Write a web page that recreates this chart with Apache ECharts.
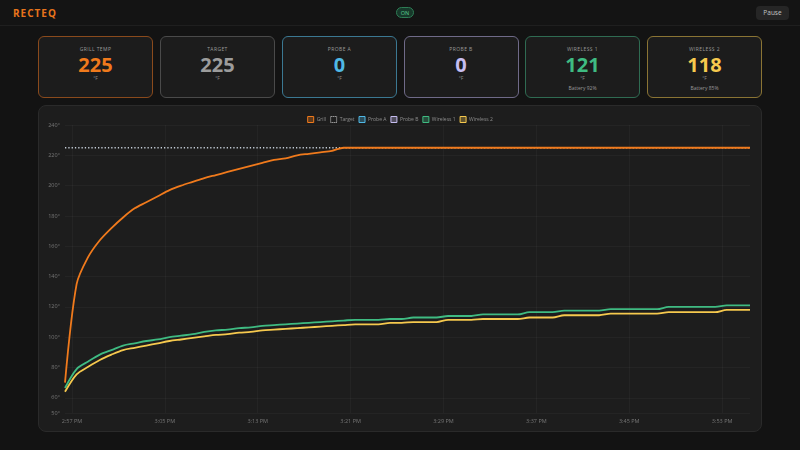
<!DOCTYPE html>
<html><head><meta charset="utf-8">
<script src="https://cdn.jsdelivr.net/npm/echarts@6/dist/echarts.min.js"></script>
<style>
html,body{margin:0;padding:0;background:#131313;width:800px;height:450px;overflow:hidden;font-family:'Open Sans','Noto Sans',sans-serif;}
.header{position:absolute;left:0;top:0;width:800px;height:25px;border-bottom:1px solid #1f1f1f;background:#141414}
.brand{position:absolute;left:13px;top:6px;font-size:10px;font-weight:700;color:#e8741c;letter-spacing:1px;line-height:14px}
.pill{position:absolute;left:396px;top:7px;width:18px;height:11px;border:1px solid #2e7d55;background:#17382a;border-radius:6px;color:#5ccf92;font-size:5.5px;line-height:11px;text-align:center;box-sizing:border-box}
.pause{position:absolute;left:756px;top:6px;width:33px;height:14px;background:#262626;border-radius:4px;color:#c4c4c4;font-size:6.5px;line-height:14px;text-align:center}
.card{position:absolute;top:36px;width:115px;height:62px;border:1px solid;border-radius:6px;background:#1c1c1c;box-sizing:border-box;text-align:center}
.card .t{position:absolute;left:0;right:0;top:9px;font-size:5px;line-height:6px;color:#9a9a9a;letter-spacing:0.4px}
.card .v{position:absolute;left:0;right:0;top:17px;font-size:20px;font-weight:700;line-height:22px}
.card .u{position:absolute;left:0;right:0;top:38px;font-size:5px;line-height:6px;color:#8a8a8a}
.card .b{position:absolute;left:0;right:0;top:48px;font-size:5px;line-height:6px;color:#9a9a9a}
#wrap{position:absolute;left:38px;top:105px;width:724px;height:327px;background:#1d1d1d;border:1px solid #2a2a2a;border-radius:8px;box-sizing:border-box;overflow:hidden}
#chart{position:absolute;left:0;top:0;width:722px;height:325px}
</style>
</head>
<body>
<div class="header">
  <div class="brand">RECTEQ</div>
  <div class="pill">ON</div>
  <div class="pause">Pause</div>
</div>
<div id="cards"></div>
<div id="wrap"><div id="chart"></div></div>
<script>
// ---- card readings ----
const cardTitles = ['GRILL TEMP', 'TARGET', 'PROBE A', 'PROBE B', 'WIRELESS 1', 'WIRELESS 2'];
const cardValues = [225, 225, 0, 0, 121, 118];
const cardUnits = ['°F', '°F', '°F', '°F', '°F', '°F'];
const cardBattery = ['', '', '', '', 'Battery 92%', 'Battery 85%'];

// ---- series names / colours ----
const seriesNames = ['Grill', 'Target', 'Probe A', 'Probe B', 'Wireless 1', 'Wireless 2'];
const seriesColors = ['#f07a1c', '#c3ccd6', '#4fb8e6', '#c6bdf0', '#3fbb82', '#f6c94e'];
const cardValueColors = ['#f07a1c', '#9c9c9c', '#4fb8e6', '#c6bdf0', '#3fbb82', '#f6c94e'];
const cardBorderColors = ['#8a4a1c', '#4a4a4a', '#3b7892', '#6f6a88', '#2f6b52', '#8a7434'];

// ---- sample times (one reading per minute) ----
const sampleTimes = [
 '14:56:24','14:57:24','14:58:24','14:59:24','15:00:24','15:01:24','15:02:24','15:03:24','15:04:24','15:05:24',
 '15:06:24','15:07:24','15:08:24','15:09:24','15:10:24','15:11:24','15:12:24','15:13:24','15:14:24','15:15:24',
 '15:16:24','15:17:24','15:18:24','15:19:24','15:20:24','15:21:24','15:22:24','15:23:24','15:24:24','15:25:24',
 '15:26:24','15:27:24','15:28:24','15:29:24','15:30:24','15:31:24','15:32:24','15:33:24','15:34:24','15:35:24',
 '15:36:24','15:37:24','15:38:24','15:39:24','15:40:24','15:41:24','15:42:24','15:43:24','15:44:24','15:45:24',
 '15:46:24','15:47:24','15:48:24','15:49:24','15:50:24','15:51:24','15:52:24','15:53:24','15:54:24','15:55:24'
];

// ---- series values (°F) ----
const grill = [
 70,135,153,164,172,179,185,189,193,197,
 200,202.5,205,207,209,211,213,215,217,218,
 220,221,222,223,225,225,225,225,225,225,
 225,225,225,225,225,225,225,225,225,225,
 225,225,225,225,225,225,225,225,225,225,
 225,225,225,225,225,225,225,225,225,225
];
const target = [
 225,225,225,225,225,225,225,225,225,225,
 225,225,225,225,225,225,225,225,225,225,
 225,225,225,225,225,225,225,225,225,225,
 225,225,225,225,225,225,225,225,225,225,
 225,225,225,225,225,225,225,225,225,225,
 225,225,225,225,225,225,225,225,225,225
];
const probeA = [];
const probeB = [];
const wireless1 = [
 66.5,79,84,88.5,91.5,94.5,96,97.5,98.5,100,
 101,102,103.5,104.5,105,106,106.5,107.5,108,108.5,
 109,109.5,110,110.5,111,111.5,111.5,111.5,112,112,
 113,113,113,114,114,114,115,115,115,115,
 116.5,116.5,116.5,117.5,117.5,117.5,117.5,118.5,118.5,118.5,
 118.5,118.5,120,120,120,120,120,121,121,121
];
const wireless2 = [
 64,75.5,80.5,85,88.5,91.5,93,94.5,96,97.5,
 98.5,99.5,100.5,101.5,102,103,103.5,104.5,105,105.5,
 106,106.5,107,107.5,108,108.5,108.5,108.5,109.5,109.5,
 110,110,110,111.5,111.5,111.5,112,112,112,112,
 113,113,113,114.5,114.5,114.5,114.5,115.5,115.5,115.5,
 115.5,115.5,116.5,116.5,116.5,116.5,116.5,118,118,118
];

// ---- tick labels ----
const xTickTimes = ['14:57','15:05','15:13','15:21','15:29','15:37','15:45','15:53'];
const xTickLabels = ['2:57 PM','3:05 PM','3:13 PM','3:21 PM','3:29 PM','3:37 PM','3:45 PM','3:53 PM'];
const yTicks = [50, 60, 80, 100, 120, 140, 160, 180, 200, 220, 240];

// ---- cards ----
const cardLefts = [38, 160, 282, 403.5, 525, 647];
const cardsEl = document.getElementById('cards');
cardTitles.forEach((t, i) => {
  const d = document.createElement('div');
  d.className = 'card';
  d.style.left = cardLefts[i] + 'px';
  d.style.borderColor = cardBorderColors[i];
  d.innerHTML = '<div class="t">' + t + '</div>' +
    '<div class="v" style="color:' + cardValueColors[i] + '">' + cardValues[i] + '</div>' +
    '<div class="u">' + cardUnits[i] + '</div>' +
    (cardBattery[i] ? '<div class="b">' + cardBattery[i] + '</div>' : '');
  cardsEl.appendChild(d);
});

// ---- chart ----
function toMin(s) {
  const p = s.split(':').map(Number);
  return p[0] * 60 + p[1] + (p[2] || 0) / 60;
}
const xs = sampleTimes.map(toMin);
const xTickVals = xTickTimes.map(toMin);
const pair = arr => arr.map((v, i) => [xs[i], v]);

function hexA(hex, a) {
  const n = parseInt(hex.slice(1), 16);
  return 'rgba(' + (n >> 16) + ',' + ((n >> 8) & 255) + ',' + (n & 255) + ',' + a + ')';
}

const chart = echarts.init(document.getElementById('chart'));
const dataSets = [grill, target, probeA, probeB, wireless1, wireless2];

chart.setOption({
  backgroundColor: 'transparent',
  animation: false,
  textStyle: { fontFamily: "'Open Sans', 'Noto Sans', sans-serif" },
  legend: {
    top: 10,
    left: 'center',
    itemWidth: 6,
    itemHeight: 6,
    itemGap: 4,
    padding: 0,
    textStyle: { color: '#8e8e8e', fontSize: 5, padding: [0, 0, 0, -2] },
    data: seriesNames.map((n, i) => ({
      name: n,
      icon: 'rect',
      itemStyle: i === 1
        ? { color: 'transparent', borderColor: '#d6d6d6', borderWidth: 1, borderType: 'dotted' }
        : { color: hexA(seriesColors[i], 0.3), borderColor: seriesColors[i], borderWidth: 1 }
    }))
  },
  grid: { left: 26, right: 11, top: 19, bottom: 18, containLabel: false, outerBoundsMode: 'none' },
  xAxis: {
    type: 'value',
    min: xs[0],
    max: xs[xs.length - 1],
    axisLine: { show: false },
    axisTick: { show: false, customValues: xTickVals },
    axisLabel: {
      customValues: xTickVals,
      color: '#777',
      fontSize: 5.5,
      margin: 5,
      formatter: v => {
        const k = xTickVals.findIndex(t => Math.abs(t - v) < 1e-6);
        return k >= 0 ? xTickLabels[k] : '';
      }
    },
    splitLine: { show: true, lineStyle: { color: 'rgba(255,255,255,0.035)', width: 1 } }
  },
  yAxis: {
    type: 'value',
    min: yTicks[0],
    max: yTicks[yTicks.length - 1],
    axisLine: { show: false },
    axisTick: { show: false, customValues: yTicks },
    axisLabel: { customValues: yTicks, color: '#777', fontSize: 5.5, margin: 5, formatter: '{value}°' },
    splitLine: { show: true, lineStyle: { color: 'rgba(255,255,255,0.03)', width: 1 } }
  },
  series: seriesNames.map((n, i) => ({
    name: n,
    type: 'line',
    data: pair(dataSets[i]),
    showSymbol: false,
    symbol: 'none',
    smooth: i === 1 ? false : 0.3,
    z: i === 0 ? 5 : 2,
    clip: true,
    lineStyle: i === 1
      ? { color: seriesColors[i], width: 1.3, type: [1.3, 2] }
      : { color: seriesColors[i], width: 1.8 },
    itemStyle: { color: seriesColors[i] }
  }))
});
</script>
</body></html>
